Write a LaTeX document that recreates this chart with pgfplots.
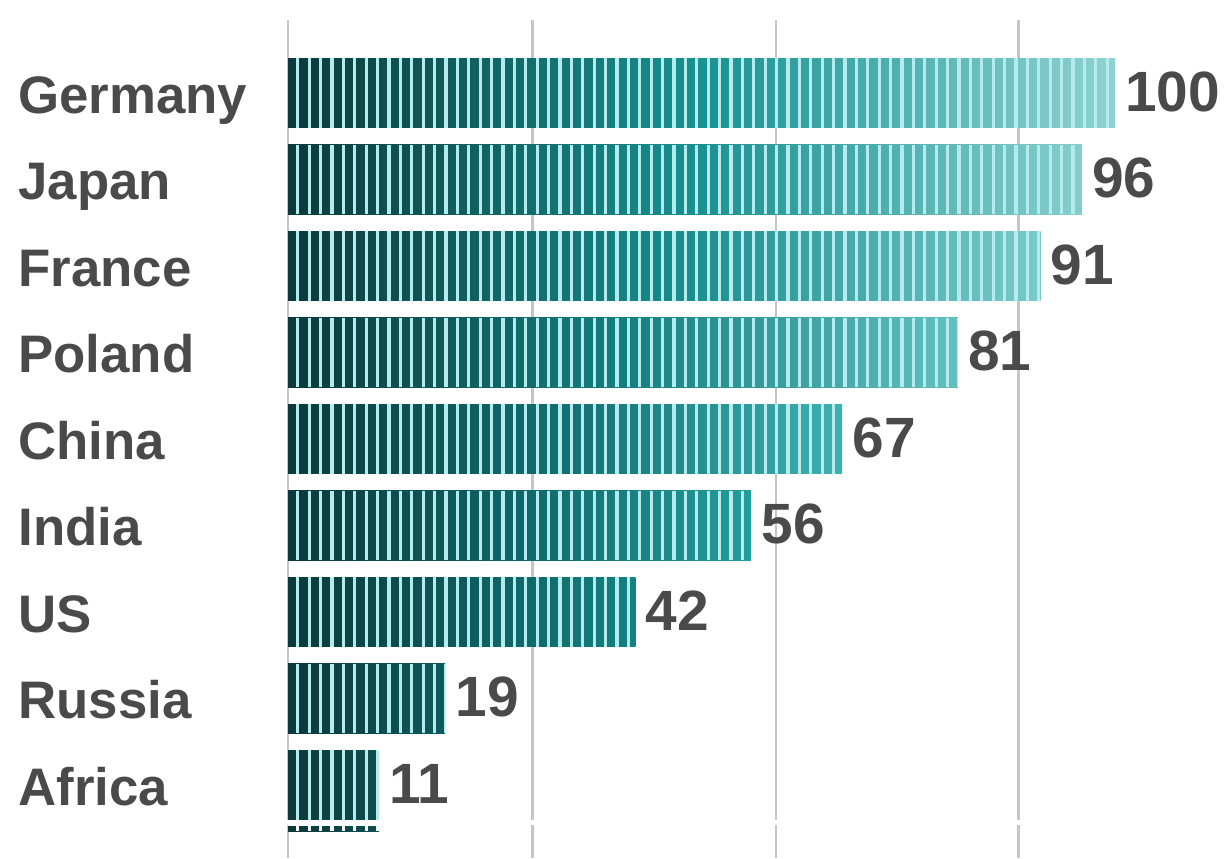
\documentclass[border=0pt]{standalone}
\usepackage{fontspec}
\setmainfont{Liberation Sans}
\usepackage{pgfplots}
\pgfplotsset{compat=1.18}
\definecolor{textgray}{HTML}{4A4A4A}
\definecolor{gridgray}{HTML}{C6C6CA}
\definecolor{gapc}{HTML}{B4ECEE}
\definecolor{c0}{RGB}{12,56,58}
% mid / end colours per bar (absolute gradient dark -> teal -> light)
\definecolor{mGer}{RGB}{24,146,146}\definecolor{eGer}{RGB}{144,210,210}
\definecolor{mJap}{RGB}{23,142,142}\definecolor{eJap}{RGB}{133,206,206}
\definecolor{mFra}{RGB}{22,137,138}\definecolor{eFra}{RGB}{121,202,202}
\definecolor{mPol}{RGB}{20,127,128}\definecolor{ePol}{RGB}{98,192,192}
\definecolor{mChi}{RGB}{17,112,115}\definecolor{eChi}{RGB}{62,177,177}
\definecolor{mInd}{RGB}{15,102,105}\definecolor{eInd}{RGB}{35,158,156}
\definecolor{mUS}{RGB}{14,90,93}\definecolor{eUS}{RGB}{20,130,131}
\definecolor{mRus}{RGB}{14,72,76}\definecolor{eRus}{RGB}{14,90,92}
\definecolor{mAfr}{RGB}{14,65,68}\definecolor{eAfr}{RGB}{14,78,80}
\pgfplotsset{
  shadebar/.style n args={2}{xbar, bar width=0.8, bar shift=0pt, draw=none,
    left color=c0, right color=#2, middle color=#1},
  gaps/.style={gapc, mark=none, line width=34.6pt, line cap=butt,
    dash pattern=on 1.6pt off 4.1pt, dash phase=1.6pt, forget plot},
}
\begin{document}
\begin{tikzpicture}
\begin{axis}[
  at={(144pt,0pt)}, anchor=south west,
  scale only axis, width=413.5pt, height=419pt,
  xmin=0, xmax=100, ymin=-0.844, ymax=8.844, y dir=reverse,
  axis line style={draw=none}, major tick length=0pt,
  xtick={0,29.6,59,88.3}, xticklabels={},
  xmajorgrids, grid style={gridgray, line width=1.3pt},
  ytick={0,1,2,3,4,5,6,7,8},
  yticklabels={Germany,Japan,France,Poland,China,India,US,Russia,Africa},
  yticklabel style={font=\bfseries\fontsize{26.4}{30}\selectfont, text=textgray,
    anchor=base west, xshift=-135pt, yshift=-10pt, inner xsep=0pt},
  clip=false,
  point meta=x,
  /pgf/number format/assume math mode=true,
  every node near coord/.append style={font=\bfseries\fontsize{28.4}{30}\selectfont,
    text=textgray, anchor=base west, yshift=-9pt, inner xsep=5pt},
]
\fill[white] (axis cs:-2,8.405) rectangle (axis cs:102,8.465);
\addplot[shadebar={mGer}{eGer}, nodes near coords] coordinates {(100,0)};
\addplot[shadebar={mJap}{eJap}, nodes near coords] coordinates {(96,1)};
\addplot[shadebar={mFra}{eFra}, nodes near coords] coordinates {(91,2)};
\addplot[shadebar={mPol}{ePol}, nodes near coords] coordinates {(81,3)};
\addplot[shadebar={mChi}{eChi}, nodes near coords] coordinates {(67,4)};
\addplot[shadebar={mInd}{eInd}, nodes near coords] coordinates {(56,5)};
\addplot[shadebar={mUS}{eUS}, nodes near coords] coordinates {(42,6)};
\addplot[shadebar={mRus}{eRus}, nodes near coords] coordinates {(19,7)};
\addplot[shadebar={mAfr}{eAfr}, nodes near coords] coordinates {(11,8)};
\addplot[xbar, bar width=0.058, bar shift=0pt, draw=none, left color=c0, right color=eAfr] coordinates {(11,8.503)};
% light gaps between the vertical stripes of every bar
\addplot[gaps] coordinates {(0,0) (100,0)};
\addplot[gaps] coordinates {(0,1) (96,1)};
\addplot[gaps] coordinates {(0,2) (91,2)};
\addplot[gaps] coordinates {(0,3) (81,3)};
\addplot[gaps] coordinates {(0,4) (67,4)};
\addplot[gaps] coordinates {(0,5) (56,5)};
\addplot[gaps] coordinates {(0,6) (42,6)};
\addplot[gaps] coordinates {(0,7) (19,7)};
\addplot[gaps] coordinates {(0,8) (11,8)};
\addplot[gaps, white, line width=2.6pt] coordinates {(0,8.503) (11,8.503)};
\end{axis}
\pgfresetboundingbox
\path[use as bounding box] (0,0) rectangle (614.5pt,429pt);
\end{tikzpicture}
\end{document}
